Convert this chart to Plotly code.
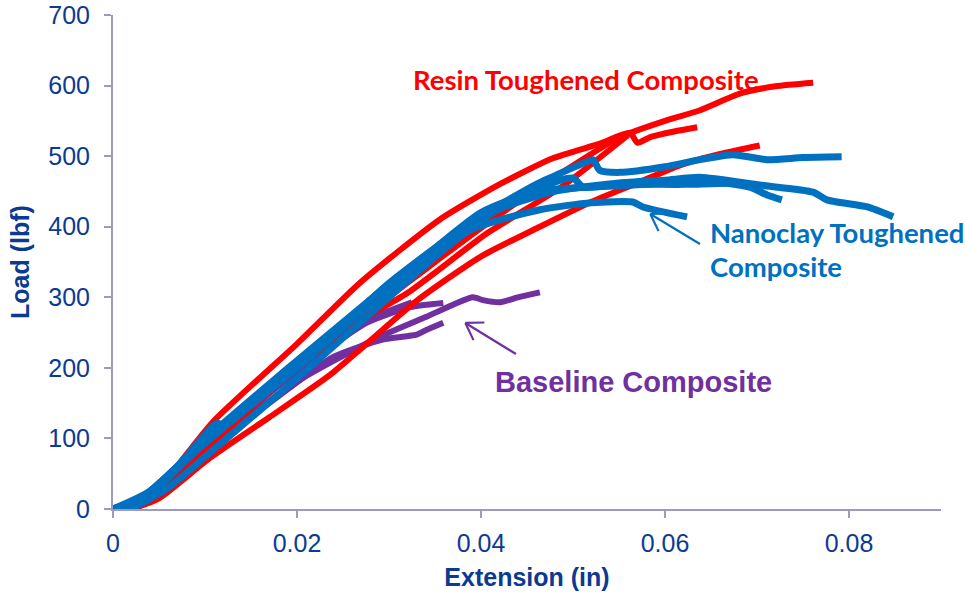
import math
import plotly.graph_objects as go

# ---------------- data (extension in, load lbf) ----------------
resin_a_x = [0.0015, 0.005, 0.0084, 0.0160, 0.0239, 0.0287, 0.0350, 0.0407, 0.0480, 0.0551, 0.0600, 0.0638, 0.0682, 0.0720, 0.0761]
resin_a_y = [0, 25, 75, 165, 244, 288, 350, 405, 470, 527, 550, 565, 589, 599, 604]
resin_b_x = [0.0, 0.003, 0.006, 0.0109, 0.0200, 0.0268, 0.0355, 0.0420, 0.0478, 0.0530, 0.0562, 0.0570, 0.0584, 0.0610, 0.0635]
resin_b_y = [0, 5, 45, 124, 234, 320, 410, 460, 497, 518, 533, 519, 527, 535, 541]
resin_c_x = [0.002, 0.005, 0.0105, 0.0170, 0.0236, 0.0265, 0.0330, 0.0399, 0.0464, 0.0518, 0.0570, 0.0616, 0.0660, 0.0703]
resin_c_y = [0, 15, 72, 130, 190, 222, 295, 357, 400, 434, 462, 487, 503, 515]
resin_d_x = [0.002, 0.006, 0.011, 0.0200, 0.0260, 0.0320, 0.0407, 0.0486, 0.0560]
resin_d_y = [0, 30, 95, 200, 260, 306, 391, 455, 530]

nano_1_x = [0.0, 0.003, 0.007, 0.011, 0.0200, 0.0279, 0.0340, 0.0399, 0.0460, 0.0515, 0.0522, 0.0529, 0.0551, 0.0600, 0.0638, 0.0674, 0.0711, 0.0750, 0.0792]
nano_1_y = [0, 15, 60, 110, 210, 296, 360, 414, 460, 492, 495, 480, 477, 485, 495, 502, 495, 498, 499]
nano_2_x = [0.0, 0.004, 0.008, 0.012, 0.0200, 0.0280, 0.0360, 0.0420, 0.0480, 0.0550, 0.0600, 0.0638, 0.0703, 0.0761, 0.0776, 0.0820, 0.0848]
nano_2_y = [0, 20, 70, 115, 200, 290, 375, 425, 450, 462, 466, 470, 459, 449, 438, 428, 414]
nano_3_x = [0.0, 0.003, 0.007, 0.0113, 0.0120, 0.0200, 0.0300, 0.0400, 0.0460, 0.0500, 0.0550, 0.0600, 0.0638, 0.0692, 0.0711, 0.0727]
nano_3_y = [0, 10, 60, 122, 118, 205, 315, 420, 450, 455, 458, 462, 466, 456, 445, 438]
nano_4_x = [0.002, 0.006, 0.011, 0.0200, 0.0300, 0.0388, 0.0464, 0.0520, 0.0565, 0.0576, 0.0624]
nano_4_y = [0, 30, 85, 185, 300, 395, 424, 434, 435, 428, 414]
nano_5_x = [0.0, 0.004, 0.009, 0.0200, 0.0300, 0.0400, 0.0464, 0.0500, 0.0511, 0.0550, 0.0620, 0.0680]
nano_5_y = [0, 25, 85, 200, 320, 415, 456, 469, 456, 460, 460, 462]

base_1_x = [0.002, 0.006, 0.011, 0.0203, 0.0290, 0.0340, 0.0391, 0.0402, 0.0421, 0.0440, 0.0464]
base_1_y = [0, 35, 95, 183, 244, 272, 300, 296, 293, 300, 307]
base_2_x = [0.002, 0.006, 0.011, 0.0200, 0.0276, 0.0323, 0.0359]
base_2_y = [0, 40, 100, 195, 264, 286, 292]
base_3_x = [0.002, 0.006, 0.011, 0.0180, 0.0239, 0.0293, 0.0330, 0.0341, 0.0359]
base_3_y = [0, 35, 90, 160, 215, 240, 247, 254, 264]
base_4_x = [0.002, 0.006, 0.011, 0.0200, 0.0276, 0.0325]
base_4_y = [0, 40, 105, 210, 268, 293]

x_ticks = [0, 0.02, 0.04, 0.06, 0.08]
x_tick_labels = ["0", "0.02", "0.04", "0.06", "0.08"]
y_ticks = [0, 100, 200, 300, 400, 500, 600, 700]

# ---------------- style ----------------
RED = "#FF0000"
BLUE = "#0070C0"
PURPLE = "#7030A0"
AXIS_TXT = "#0B3A92"
AXIS_LINE = "#9A9AC2"
X_MAX, Y_MAX = 0.09, 700
M_L, M_R, M_T, M_B = 113, 24, 15, 86
W, H = 965, 595
PX_X = (W - M_L - M_R) / X_MAX
PX_Y = (H - M_T - M_B) / Y_MAX

fig = go.Figure()

def add(xs, ys, color, width):
    fig.add_trace(go.Scatter(x=xs, y=ys, mode="lines",
                             line=dict(color=color, width=width, shape="spline", smoothing=0.6),
                             showlegend=False, hoverinfo="skip"))

for xs, ys in [(base_1_x, base_1_y), (base_2_x, base_2_y), (base_3_x, base_3_y), (base_4_x, base_4_y)]:
    add(xs, ys, PURPLE, 6)
for xs, ys in [(resin_c_x, resin_c_y), (resin_d_x, resin_d_y), (resin_a_x, resin_a_y), (resin_b_x, resin_b_y)]:
    add(xs, ys, RED, 6)
for xs, ys in [(nano_4_x, nano_4_y), (nano_2_x, nano_2_y), (nano_3_x, nano_3_y), (nano_5_x, nano_5_y), (nano_1_x, nano_1_y)]:
    add(xs, ys, BLUE, 7)

# ---------------- arrows with open heads ----------------
shapes = []
def arrow(tail, head, color, arm_px=19, spread_deg=33):
    (tx, ty), (hx, hy) = tail, head
    shapes.append(dict(type="line", xref="x", yref="y", x0=tx, y0=ty, x1=hx, y1=hy,
                       line=dict(color=color, width=2.2)))
    dx = (tx - hx) * PX_X
    dy = (ty - hy) * PX_Y
    ang = math.atan2(dy, dx)
    for s in (-1, 1):
        a = ang + s * math.radians(spread_deg)
        ex = hx + arm_px * math.cos(a) / PX_X
        ey = hy + arm_px * math.sin(a) / PX_Y
        shapes.append(dict(type="line", xref="x", yref="y", x0=hx, y0=hy, x1=ex, y1=ey,
                           line=dict(color=color, width=2.2)))

arrow((0.0638, 375.5), (0.0584, 418.0), BLUE)
arrow((0.0438, 219.6), (0.0383, 263.6), PURPLE)

annotations = [
    dict(x=0.0514, y=609, xref="x", yref="y", text="<b>Resin Toughened Composite</b>",
         showarrow=False, font=dict(family="Lato", size=27.5, color=RED), xanchor="center", yanchor="middle"),
    dict(x=0.0647, y=392.5, xref="x", yref="y", text="<b>Nanoclay Toughened</b>",
         showarrow=False, font=dict(family="Lato", size=27.5, color=BLUE), xanchor="left", yanchor="middle"),
    dict(x=0.0647, y=343, xref="x", yref="y", text="<b>Composite</b>",
         showarrow=False, font=dict(family="Lato", size=27.5, color=BLUE), xanchor="left", yanchor="middle"),
    dict(x=0.0566, y=180, xref="x", yref="y", text="<b>Baseline Composite</b>",
         showarrow=False, font=dict(family="Liberation Sans", size=29, color=PURPLE), xanchor="center", yanchor="middle"),
]

fig.update_layout(
    width=W, height=H,
    margin=dict(l=M_L, r=M_R, t=M_T, b=M_B, autoexpand=False),
    plot_bgcolor="white", paper_bgcolor="white",
    font=dict(family="Liberation Sans", color=AXIS_TXT),
    shapes=shapes, annotations=annotations,
    xaxis=dict(range=[0, X_MAX], tickvals=x_ticks, ticktext=x_tick_labels, automargin=False,
               showgrid=False, zeroline=False, showline=True, linecolor=AXIS_LINE, linewidth=2,
               ticks="outside", ticklen=7, tickwidth=2, tickcolor=AXIS_LINE,
               ticklabelstandoff=4,
               tickfont=dict(size=25, color=AXIS_TXT),
               title=dict(text="<b>Extension (in)</b>", font=dict(size=25, color=AXIS_TXT), standoff=12)),
    yaxis=dict(range=[0, Y_MAX], tickvals=y_ticks, automargin=False,
               showgrid=False, zeroline=False, showline=True, linecolor=AXIS_LINE, linewidth=2,
               ticks="outside", ticklen=7, tickwidth=2, tickcolor=AXIS_LINE,
               ticklabelstandoff=9,
               tickfont=dict(size=25, color=AXIS_TXT),
               title=dict(text="<b>Load (lbf)</b>", font=dict(size=25, color=AXIS_TXT), standoff=12)),
)

fig.write_html("out.html")
